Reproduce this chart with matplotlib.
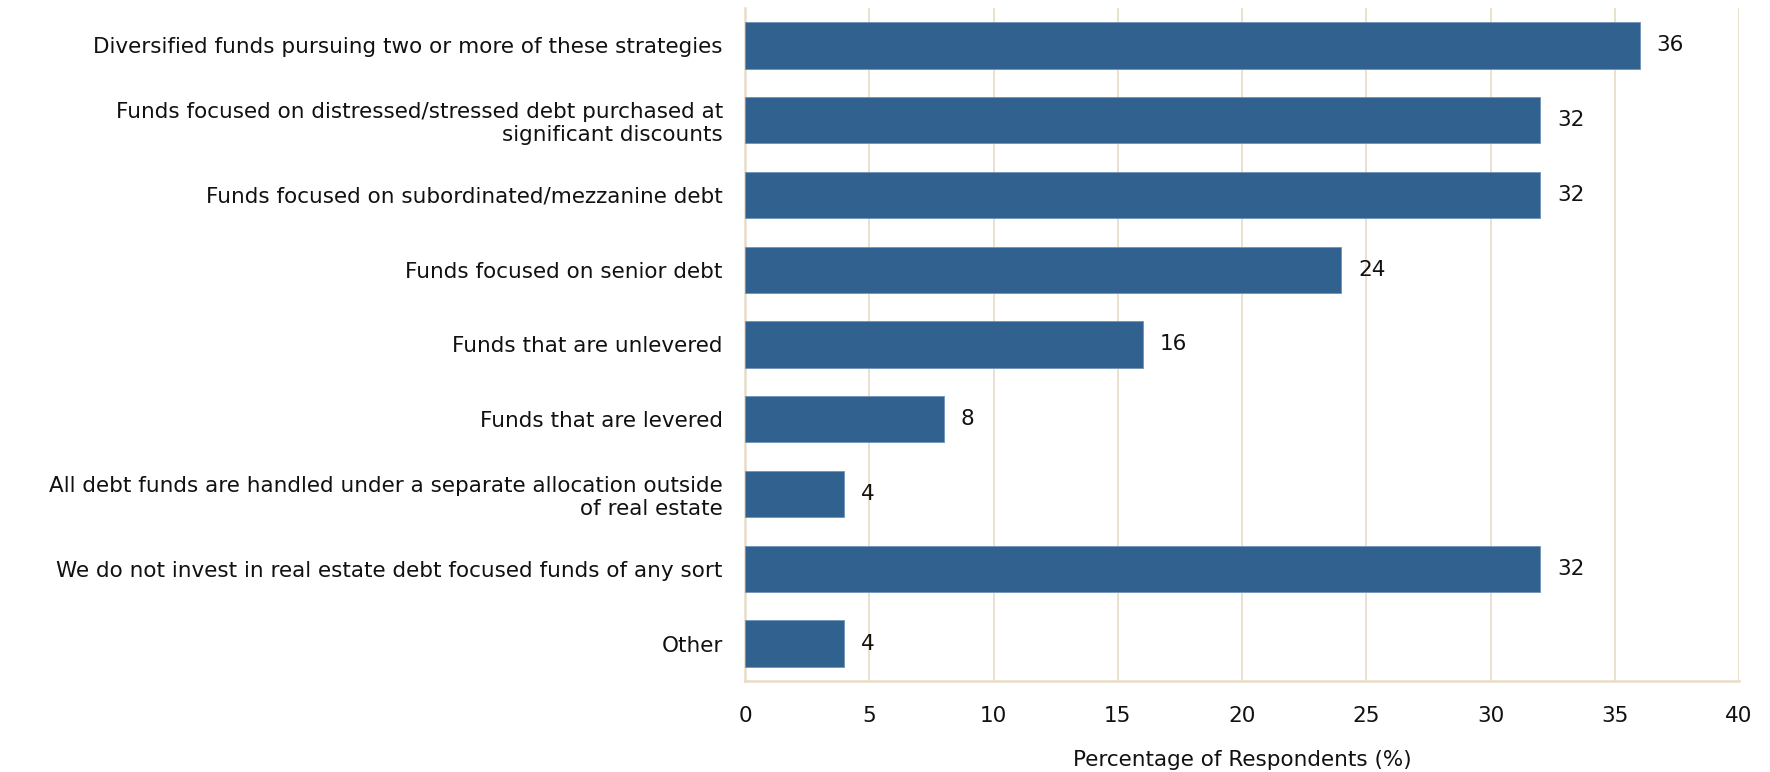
import numpy as np
import matplotlib.pyplot as plt

categories = [
    'Diversified funds pursuing two or more of these strategies',
    'Funds focused on distressed/stressed debt purchased at\nsignificant discounts',
    'Funds focused on subordinated/mezzanine debt',
    'Funds focused on senior debt',
    'Funds that are unlevered',
    'Funds that are levered',
    'All debt funds are handled under a separate allocation outside\nof real estate',
    'We do not invest in real estate debt focused funds of any sort',
    'Other',
]
values = [36, 32, 32, 24, 16, 8, 4, 32, 4]
xticks = [0, 5, 10, 15, 20, 25, 30, 35, 40]

bar_color = '#31618f'
grid_color = '#e9dcc9'
fs = 15.5

plt.rcParams['font.family'] = ['DejaVu Sans']
fig = plt.figure(figsize=(17.7, 7.72), dpi=100)
ax = fig.add_axes([745 / 1770, 1 - 681 / 772, (1739 - 745) / 1770, (681 - 8) / 772])

y = np.arange(len(categories))
bars = ax.barh(y, values, height=0.62, color=bar_color, edgecolor='#6f93b8',
               linewidth=0.6, zorder=3)
ax.bar_label(bars, labels=[str(v) for v in values], padding=12, fontsize=fs, color='#111111')

ax.set_ylim(len(categories) - 0.5, -0.5)
ax.set_xlim(0, 40)
ax.set_yticks(y)
ax.set_yticklabels(categories, fontsize=fs, color='#111111', linespacing=1.2)
ax.set_xticks(xticks)
ax.set_xticklabels([str(t) for t in xticks], fontsize=fs, color='#111111')
ax.tick_params(axis='y', length=0, pad=16)
ax.tick_params(axis='x', length=0, pad=18)

ax.grid(axis='x', color=grid_color, linewidth=1.3, zorder=0)
for side in ['top', 'right']:
    ax.spines[side].set_visible(False)
for side in ['left', 'bottom']:
    ax.spines[side].set_color(grid_color)
    ax.spines[side].set_linewidth(1.8)

ax.set_xlabel('Percentage of Respondents (%)', fontsize=fs, color='#111111', labelpad=17)

fig.savefig('out.png', dpi=100)
